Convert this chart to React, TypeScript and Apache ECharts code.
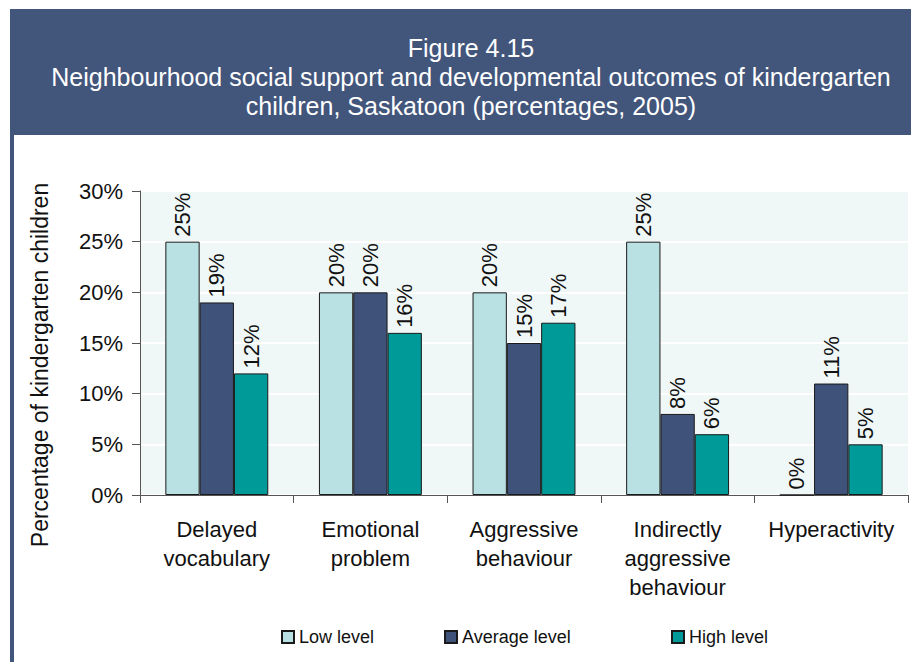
import React, { useEffect, useRef } from "react";
import * as echarts from "echarts";

const categories = [
  "Delayed\nvocabulary",
  "Emotional\nproblem",
  "Aggressive\nbehaviour",
  "Indirectly\naggressive\nbehaviour",
  "Hyperactivity",
];
const seriesNames = ["Low level", "Average level", "High level"];
const lowLevel = [25, 20, 20, 25, 0];
const averageLevel = [19, 20, 15, 8, 11];
const highLevel = [12, 16, 17, 6, 5];
const seriesColors = ["#b9e0e2", "#3f5279", "#009b98"];
const titleLines = [
  "Figure 4.15",
  "Neighbourhood social support and developmental outcomes of kindergarten",
  "children, Saskatoon (percentages, 2005)",
];
const yAxisTitle = "Percentage of kindergarten children";

const FONT = "'Liberation Sans', Arial, sans-serif";

export default function App() {
  const ref = useRef<HTMLDivElement>(null);
  useEffect(() => {
    document.body.style.margin = "0";
    const chart = echarts.init(ref.current!, undefined, { renderer: "svg" });
    const values = [lowLevel, averageLevel, highLevel];
    const legendLefts = [276, 439, 666];
    chart.setOption({
      animation: false,
      backgroundColor: "#ffffff",
      textStyle: { fontFamily: FONT },
      title: {
        text: titleLines.join("\n"),
        left: 466,
        top: 28,
        textAlign: "center",
        textStyle: {
          color: "#ffffff",
          fontSize: 25,
          fontWeight: "normal",
          lineHeight: 29,
          fontFamily: FONT,
        },
      },
      graphic: [
        { type: "rect", z: -1, shape: { x: 10, y: 9, width: 901, height: 126 }, style: { fill: "#42557b" } },
        { type: "rect", z: -1, shape: { x: 10, y: 135, width: 4, height: 527 }, style: { fill: "#42557b" } },
        {
          type: "text",
          x: 40,
          y: 365,
          rotation: Math.PI / 2,
          style: {
            text: yAxisTitle,
            fontSize: 23,
            fontFamily: FONT,
            fill: "#111111",
            textAlign: "center",
            textVerticalAlign: "middle",
          },
        },
      ],
      legend: seriesNames.map((n, i) => ({
        data: [n],
        left: legendLefts[i],
        top: 623,
        icon: "rect",
        itemWidth: 12,
        itemHeight: 12,
        itemGap: 6,
        textStyle: { fontSize: 18, color: "#111111", fontFamily: FONT },
      })),
      grid: {
        left: 140,
        right: 3,
        top: 191,
        bottom: 167,
        show: true,
        backgroundColor: "#eff7f7",
        borderWidth: 0,
      },
      xAxis: {
        type: "category",
        data: categories,
        axisLine: { show: true, lineStyle: { color: "#555555", width: 1 } },
        axisTick: { show: true, length: 8, lineStyle: { color: "#555555" } },
        axisLabel: {
          interval: 0,
          fontSize: 22,
          lineHeight: 29,
          color: "#111111",
          margin: 20,
          fontFamily: FONT,
        },
      },
      yAxis: {
        type: "value",
        min: 0,
        max: 30,
        interval: 5,
        axisLine: { show: true, lineStyle: { color: "#555555", width: 1 } },
        axisTick: { show: true, length: 8, lineStyle: { color: "#555555" } },
        axisLabel: {
          formatter: "{value}%",
          fontSize: 22,
          color: "#111111",
          margin: 17,
          fontFamily: FONT,
        },
        splitLine: { show: true, lineStyle: { color: "#ffffff", width: 2 } },
      },
      series: seriesNames.map((n, i) => ({
        name: n,
        type: "bar",
        data: values[i],
        barGap: "0%",
        barCategoryGap: "33%",
        itemStyle: { color: seriesColors[i], borderColor: "#1a1a1a", borderWidth: 1 },
        label: {
          show: true,
          position: "top",
          rotate: 90,
          align: "left",
          verticalAlign: "middle",
          distance: 5,
          formatter: "{c}%",
          fontSize: 22,
          color: "#111111",
          fontFamily: FONT,
        },
      })),
    });
    return () => chart.dispose();
  }, []);
  return <div ref={ref} style={{ width: 911, height: 662 }} />;
}
